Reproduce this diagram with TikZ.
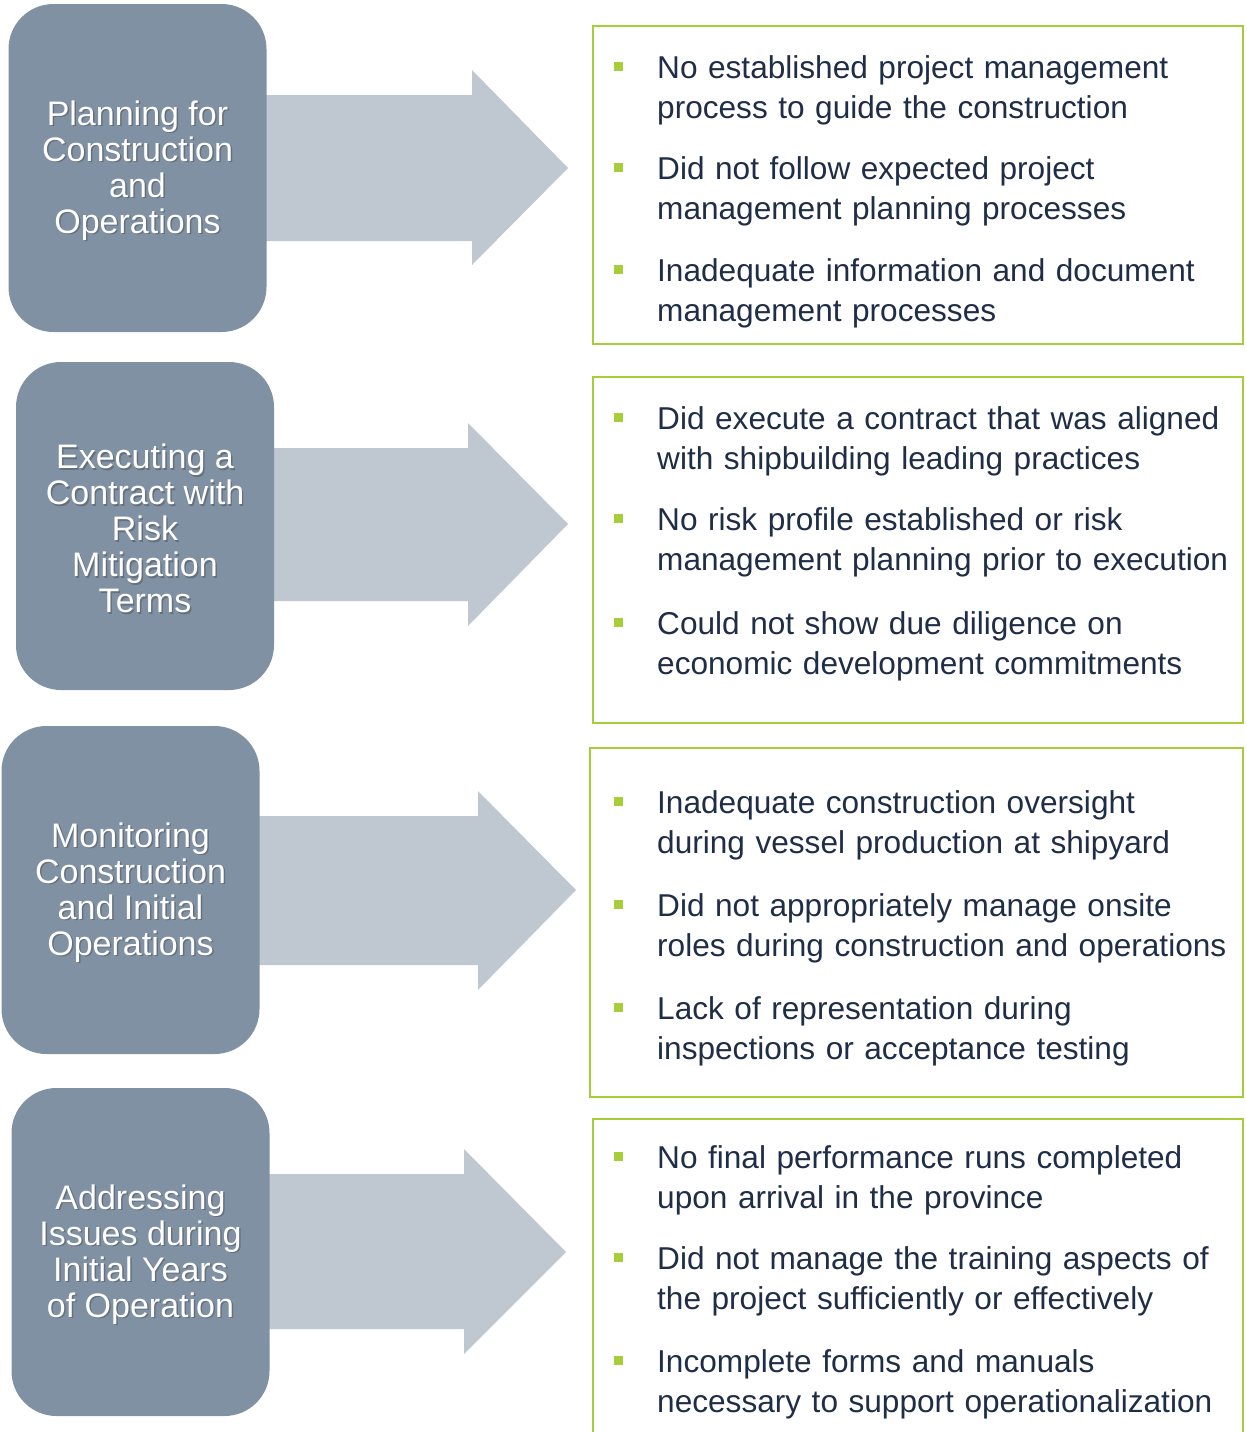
\documentclass[tikz,border=0pt]{standalone}
\usepackage{fontspec}
\setmainfont{Liberation Sans}
\usetikzlibrary{positioning}

\definecolor{stagegray}{RGB}{128,145,164}
\definecolor{arrowgray}{RGB}{191,199,209}
\definecolor{leafgreen}{RGB}{166,206,57}
\definecolor{inkblue}{RGB}{31,45,70}

\tikzset{
  stage/.style={fill=stagegray, rounded corners=45pt, minimum width=258pt,
    minimum height=328pt, inner sep=0pt},
  stagetext/.style={text=white, align=center, inner sep=0pt,
    font=\fontsize{34}{36}\selectfont},
  findbox/.style={draw=leafgreen, line width=2.5pt, inner sep=0pt},
  issue/.style={text=inkblue, text width=585pt, align=left, anchor=base west,
    inner sep=0pt, font=\fontsize{31.6}{40}\selectfont},
  bullet/.style={fill=leafgreen, minimum size=9pt, inner sep=0pt},
}

% white label with a soft drop shadow
\newcommand\stagelabel[2]{%
  \node[stagetext, text=black!80, opacity=.35] (#1-shadow) at ([shift={(1.5,4)}]#1.center) {#2};
  \node[stagetext] (#1-text) at ([shift={(0,2.5)}]#1.center) {#2};
}

\begin{document}
\begin{tikzpicture}[x=1pt, y=-1pt]
  \useasboundingbox (0,0) rectangle (1247,1432);

  % broad arrows, drawn first so the stage boxes cover their tails
  \foreach \x/\top/\bot/\hx/\htop/\hbot/\tx/\ty in {
    137/95/241/472/70/265/568/168,
    145/448/601/468/423/626/568/524,
    130/816/965/478/791/990/576/890,
    140/1174/1329/464/1149/1354/566/1252} {
    \fill[arrowgray] (\x,\top) -- (\hx,\top) -- (\hx,\htop) -- (\tx,\ty)
      -- (\hx,\hbot) -- (\hx,\bot) -- (\x,\bot) -- cycle;
  }

  % stages on the left
  \node[stage] (stage1) at (137.5,168) {};
  \node[stage] (stage2) at (145,526) {};
  \node[stage] (stage3) at (130.5,890) {};
  \node[stage] (stage4) at (140.5,1252) {};

  \stagelabel{stage1}{Planning for\\Construction\\and\\Operations}
  \stagelabel{stage2}{Executing a\\Contract with\\Risk\\Mitigation\\Terms}
  \stagelabel{stage3}{Monitoring\\Construction\\and Initial\\Operations}
  \stagelabel{stage4}{Addressing\\Issues during\\Initial Years\\of Operation}

  % findings on the right
  \node[findbox, minimum width=650pt, minimum height=318pt] (find1) at (918,185) {};
  \node[findbox, minimum width=650pt, minimum height=346pt] (find2) at (918,550) {};
  \node[findbox, minimum width=653pt, minimum height=349pt] (find3) at (916.5,922.5) {};
  \node[findbox, minimum width=650pt, minimum height=331pt] (find4) at (918,1284.5) {};

  \foreach \y/\txt in {
    67/{No established project management\\process to guide the construction},
    168/{Did not follow expected project\\management planning processes},
    270/{Inadequate information and document\\management processes},
    418/{Did execute a contract that was aligned\\with shipbuilding leading practices},
    519/{No risk profile established or risk\\management planning prior to execution},
    623/{Could not show due diligence on\\economic development commitments},
    802/{Inadequate construction oversight\\during vessel production at shipyard},
    905/{Did not appropriately manage onsite\\roles during construction and operations},
    1008/{Lack of representation during\\inspections or acceptance testing},
    1157/{No final performance runs completed\\upon arrival in the province},
    1258/{Did not manage the training aspects of\\the project sufficiently or effectively},
    1361/{Incomplete forms and manuals\\necessary to support operationalization}} {
    \node[bullet] (dot\y) at (618,\y-1) {};
    \node[issue] (issue\y) at (657,\y+11) {\txt};
  }
\end{tikzpicture}
\end{document}
